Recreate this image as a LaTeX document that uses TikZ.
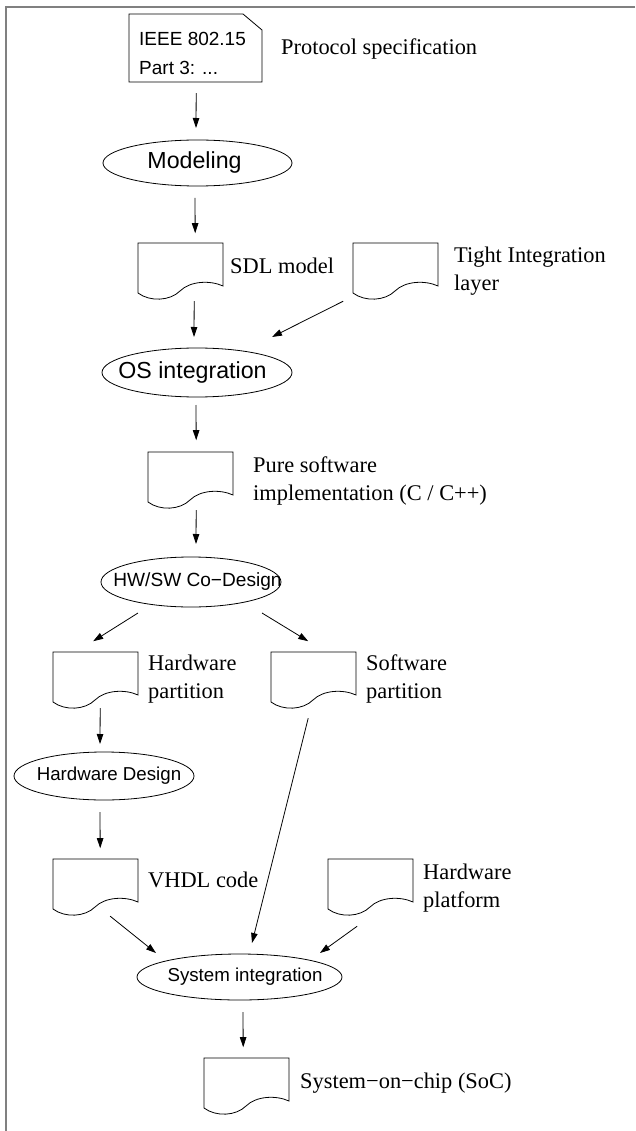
\documentclass[tikz,border=0pt]{standalone}
\usepackage{fontspec}
\setmainfont{Liberation Serif}
\setsansfont{Liberation Sans}
\usetikzlibrary{arrows.meta,shapes.geometric}

% outline of a "document" symbol attached to a docbox node
\newcommand\docoutline[1]{%
  \draw[thinline,shift={(#1.north west)}]
    (0,0) -- (85,0) -- (85,43)
    .. controls (72,37) and (52,38) .. (42,48)
    .. controls (32,58) and (12,59) .. (0,50) -- cycle;}

\tikzset{
  thinline/.style={line width=0.8pt},
  arr/.style={thinline,-{Triangle[length=10pt,width=6.5pt]}},
  proc/.style={draw,ellipse,thinline,inner sep=0pt},
  docbox/.style={rectangle,minimum width=85pt,minimum height=57pt,inner sep=0pt,anchor=north west},
  lbl/.style={font=\fontsize{22.4}{28}\selectfont,anchor=base west,inner sep=0pt},
  sansbig/.style={font=\sffamily\fontsize{23.2}{28}\selectfont,inner sep=0pt},
  sansmid/.style={font=\sffamily\fontsize{18.7}{24}\selectfont,inner sep=0pt},
  sanssmall/.style={font=\sffamily\fontsize{19.1}{24}\selectfont,inner sep=0pt},
  frame/.style={line width=2pt,draw=black!50},
}

\begin{document}
\begin{tikzpicture}[x=1pt,y=-1pt]
\useasboundingbox (0,0) rectangle (635,1131);

% page frame (top and left edges)
\draw[frame] (635,7) -- (5.7,7) -- (5.7,1131);

% protocol specification sheet with folded corner
\node[rectangle,minimum width=133pt,minimum height=68pt,inner sep=0pt,anchor=north west,
      label={[font=\sffamily\fontsize{19}{29}\selectfont,inner sep=0pt,anchor=base west,xshift=10pt,yshift=-32pt]north west:%
      {\begin{tabular}[t]{@{}l@{}}IEEE 802.15\\Part 3: ...\end{tabular}}}]
      (spec) at (129,14) {};
\draw[thinline,shift={(spec.north west)}] (0,0) -- (114,0) -- (133,16) -- (133,68) -- (0,68) -- cycle;
\node[lbl] at (281,55) {Protocol specification};

% process ellipses
\node[proc,minimum width=189pt,minimum height=46pt,
      label={[sansbig,xshift=-3pt]center:Modeling}] (model) at (197.5,163) {};
\node[proc,minimum width=190pt,minimum height=49pt,
      label={[sansbig,xshift=-4.5pt]center:OS integration}] (os) at (197,372.5) {};
\node[proc,minimum width=180pt,minimum height=50pt,
      label={[sanssmall,xshift=6.5pt]center:HW/SW Co−Design}] (hwsw) at (191,582) {};
\node[proc,minimum width=180pt,minimum height=48pt,
      label={[sansmid,xshift=5pt]center:Hardware Design}] (hwd) at (104,776) {};
\node[proc,minimum width=205pt,minimum height=46pt,
      label={[sansmid,xshift=5.5pt]center:System integration}] (sysint) at (239.5,977) {};

% documents
\node[docbox] (sdl)   at (138,243) {};
\node[docbox] (tight) at (353,243) {};
\node[docbox] (pure)  at (148,452) {};
\node[docbox] (hpart) at (53,652) {};
\node[docbox] (spart) at (271,652) {};
\node[docbox] (vhdl)  at (53,859) {};
\node[docbox] (hplat) at (328,859) {};
\node[docbox] (soc)   at (204,1058) {};
\docoutline{sdl}
\docoutline{tight}
\docoutline{pure}
\docoutline{hpart}
\docoutline{spart}
\docoutline{vhdl}
\docoutline{hplat}
\docoutline{soc}

% document captions
\node[lbl] at (230,273) {SDL model};
\node[lbl] at (454,263) {\begin{tabular}[t]{@{}l@{}}Tight Integration\\layer\end{tabular}};
\node[lbl] at (253,472) {\begin{tabular}[t]{@{}l@{}}Pure software\\implementation (C / C++)\end{tabular}};
\node[lbl] at (148,670) {\begin{tabular}[t]{@{}l@{}}Hardware\\partition\end{tabular}};
\node[lbl] at (366,670) {\begin{tabular}[t]{@{}l@{}}Software\\partition\end{tabular}};
\node[lbl] at (148,887) {VHDL code};
\node[lbl] at (423,879) {\begin{tabular}[t]{@{}l@{}}Hardware\\platform\end{tabular}};
\node[lbl] at (300,1088) {System−on−chip (SoC)};

% flow
\draw[arr] ([shift={(0.5,45)}]spec.center)    -- ([shift={(-1.5,-35)}]model.center);
\draw[arr] ([shift={(-2.5,35)}]model.center)  -- ([shift={(14.5,-38.5)}]sdl.center);
\draw[arr] ([shift={(13.5,29.5)}]sdl.center)  -- ([shift={(-3,-35.5)}]os.center);
\draw[arr] ([shift={(-52.5,29.5)}]tight.center) -- ([shift={(75,-35.5)}]os.center);
\draw[arr] ([shift={(-1,32.5)}]os.center)     -- ([shift={(5.5,-40.5)}]pure.center);
\draw[arr] ([shift={(5.5,29.5)}]pure.center)  -- ([shift={(5,-38)}]hwsw.center);
\draw[arr] ([shift={(-53,31)}]hwsw.center)    -- ([shift={(-2.5,-39.5)}]hpart.center);
\draw[arr] ([shift={(71,31)}]hwsw.center)     -- ([shift={(-5.5,-39.5)}]spart.center);
\draw[arr] ([shift={(4.5,27.5)}]hpart.center) -- ([shift={(-4,-32)}]hwd.center);
\draw[arr] ([shift={(-5.5,37.5)}]spart.center) -- ([shift={(12.5,-34)}]sysint.center);
\draw[arr] ([shift={(-4,36)}]hwd.center)      -- ([shift={(4.5,-39.5)}]vhdl.center);
\draw[arr] ([shift={(14.5,28.5)}]vhdl.center) -- ([shift={(-83.5,-24)}]sysint.center);
\draw[arr] ([shift={(-13.5,38.5)}]hplat.center) -- ([shift={(80.5,-24)}]sysint.center);
\draw[arr] ([shift={(3.5,35)}]sysint.center)  -- ([shift={(-3.5,-39.5)}]soc.center);
\end{tikzpicture}
\end{document}
